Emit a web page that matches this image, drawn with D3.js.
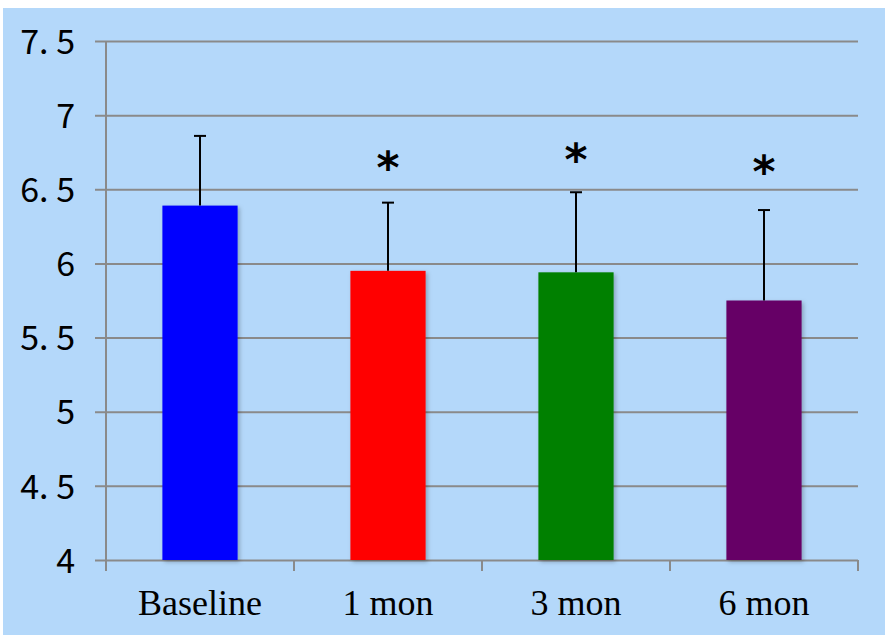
<!DOCTYPE html>
<html>
<head>
<meta charset="utf-8">
<script src="https://cdn.jsdelivr.net/npm/d3@7"></script>
<style>
  body { margin: 0; background: #fff; }
  svg { display: block; }
</style>
</head>
<body>
<svg id="chart" width="885" height="635"></svg>
<script>
const categories = ['Baseline', '1 mon', '3 mon', '6 mon'];
const means = [6.39, 5.95, 5.94, 5.75];
const upperErr = [6.86, 6.41, 6.48, 6.36];
const starred = [false, true, true, true];
const starAt = [0, 6.68, 6.73, 6.65];
const barColors = ['#0000ff', '#ff0000', '#008000', '#660066'];
const yTicks = [4, 4.5, 5, 5.5, 6, 6.5, 7, 7.5];

const svg = d3.select('#chart');
const plotL = 106, plotR = 858, plotT = 41, plotB = 560;

svg.append('rect')
  .attr('x', 3).attr('y', 8)
  .attr('width', 882).attr('height', 627)
  .attr('fill', '#b4d8fa');

const defs = svg.append('defs');
defs.append('filter').attr('id', 'shadow')
  .attr('x', '-20%').attr('y', '-20%').attr('width', '140%').attr('height', '140%')
  .append('feDropShadow')
  .attr('dx', 2).attr('dy', 2).attr('stdDeviation', 2)
  .attr('flood-color', '#000').attr('flood-opacity', 0.25);

const x = d3.scaleBand().domain(categories).range([plotL, plotR]).paddingInner(0.6).paddingOuter(0.3);
const y = d3.scaleLinear().domain([4, 7.5]).range([plotB, plotT]);

// gridlines + y labels
const yAxis = d3.axisLeft(y)
  .tickValues(yTicks)
  .tickSize(-(plotR - plotL + 11))
  .tickPadding(20)
  .tickFormat(d => String(d).replace('.', '. '));

const gy = svg.append('g')
  .attr('transform', `translate(${plotL - 11},0)`)
  .call(yAxis);
gy.select('.domain').remove();
gy.selectAll('.tick line')
  .attr('stroke', '#8a8a8a').attr('stroke-width', 2);
gy.selectAll('.tick text')
  .attr('x', -20)
  .attr('dy', '0.36em')
  .attr('fill', '#000')
  .style('font-family', '"Noto Sans CJK JP", "DejaVu Sans", sans-serif')
  .style('font-size', '34px');

// y axis vertical line
svg.append('line')
  .attr('x1', plotL).attr('x2', plotL)
  .attr('y1', plotT).attr('y2', plotB + 11)
  .attr('stroke', '#8a8a8a').attr('stroke-width', 2);

// x category ticks
const step = (plotR - plotL) / categories.length;
svg.append('g').selectAll('line')
  .data(d3.range(1, categories.length + 1))
  .join('line')
  .attr('x1', i => plotL + i * step).attr('x2', i => plotL + i * step)
  .attr('y1', plotB).attr('y2', plotB + 11)
  .attr('stroke', '#8a8a8a').attr('stroke-width', 2);

// bars
svg.append('g').selectAll('rect')
  .data(categories)
  .join('rect')
  .attr('x', d => x(d))
  .attr('width', x.bandwidth())
  .attr('y', (d, i) => y(means[i]))
  .attr('height', (d, i) => y(4) - y(means[i]))
  .attr('fill', (d, i) => barColors[i])
  .attr('filter', 'url(#shadow)');

// error bars
const eb = svg.append('g').selectAll('g')
  .data(categories)
  .join('g');
eb.append('line')
  .attr('x1', d => x(d) + x.bandwidth() / 2)
  .attr('x2', d => x(d) + x.bandwidth() / 2)
  .attr('y1', (d, i) => y(means[i]))
  .attr('y2', (d, i) => y(upperErr[i]))
  .attr('stroke', '#000').attr('stroke-width', 2);
eb.append('line')
  .attr('x1', d => x(d) + x.bandwidth() / 2 - 6)
  .attr('x2', d => x(d) + x.bandwidth() / 2 + 6)
  .attr('y1', (d, i) => y(upperErr[i]))
  .attr('y2', (d, i) => y(upperErr[i]))
  .attr('stroke', '#000').attr('stroke-width', 2);

// significance stars
svg.append('g').selectAll('text')
  .data(categories.filter((d, i) => starred[i]))
  .join('text')
  .attr('x', d => x(d) + x.bandwidth() / 2)
  .attr('y', d => y(starAt[categories.indexOf(d)]) + 20)
  .attr('text-anchor', 'middle')
  .style('font-family', '"DejaVu Sans", sans-serif')
  .style('font-weight', 'bold')
  .style('font-size', '44px')
  .text('*');

// x labels
svg.append('g').selectAll('text')
  .data(categories)
  .join('text')
  .attr('x', d => x(d) + x.bandwidth() / 2)
  .attr('y', 615)
  .attr('text-anchor', 'middle')
  .style('font-family', '"Liberation Serif", "Times New Roman", serif')
  .style('font-size', '36px')
  .text(d => d);
</script>
</body>
</html>
